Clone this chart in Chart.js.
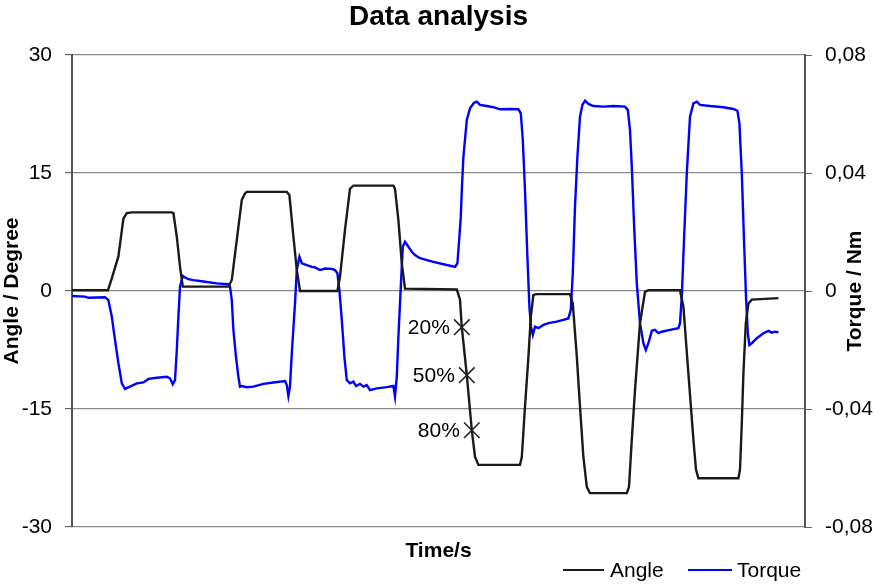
<!DOCTYPE html>
<html><head><meta charset="utf-8">
<script src="https://cdn.jsdelivr.net/npm/chart.js@4.4.1/dist/chart.umd.min.js"></script>
<style>html,body{margin:0;padding:0;background:#fff;}#wrap{width:896px;height:584px;}</style>
</head><body><div id="wrap"><canvas id="c" width="896" height="584"></canvas></div>
<script>
const chartTitle = 'Data analysis';
const xTitle = 'Time/s';
const yTitle = 'Angle / Degree';
const y2Title = 'Torque / Nm';
const seriesNames = ['Angle', 'Torque'];

const angleTime = [0,1.8,1.99,2.32,2.57,2.74,2.99,4.99,5.07,5.24,5.4,5.54,7.82,7.99,8.24,8.49,8.65,8.74,10.74,10.87,11.07,11.24,11.4,13.27,13.4,13.65,13.9,14.07,16.07,16.15,16.32,16.49,16.65,19.24,19.4,19.49,19.74,19.99,20.15,20.32,22.4,22.49,22.65,22.82,22.94,23.07,23.24,24.9,25.04,25.24,25.4,25.57,25.74,25.9,27.74,27.85,27.99,28.15,28.4,28.65,28.82,30.4,30.57,30.82,31.07,31.2,31.32,33.32,33.4,33.49,33.57,33.69,33.82,33.99,35.32];
const angleValue = [0.1,0.1,1.6,4.4,9.2,9.9,10,10,9.9,6.9,3.1,0.55,0.55,1.4,6.5,11.6,12.4,12.6,12.6,12.2,6.9,2.7,0,0,1.8,7.8,13,13.4,13.4,13,9,3.5,0.3,0.2,-1.1,-4.6,-10.7,-17.7,-21.1,-22.1,-22.1,-21.1,-14.7,-8.4,-3.3,-0.5,-0.4,-0.4,-1.6,-8.3,-14.7,-21.1,-24.9,-25.7,-25.7,-24.9,-18.9,-12.6,-4.1,-0.1,0.1,0.1,-2,-10.5,-18.9,-22.7,-23.8,-23.8,-22.7,-16.8,-10.5,-4.1,-1.6,-1.1,-0.9];

const torqueTime = [0,0.65,0.82,1.65,1.82,1.99,2.15,2.32,2.49,2.65,2.9,3.24,3.57,3.82,4.24,4.74,4.9,5.04,5.15,5.24,5.32,5.4,5.54,5.65,5.82,6.07,6.57,7.24,7.82,7.9,7.99,8.07,8.2,8.32,8.4,8.49,8.74,9.07,9.57,10.07,10.65,10.74,10.82,10.9,10.99,11.15,11.24,11.37,11.49,11.74,11.99,12.15,12.4,12.65,12.99,13.15,13.27,13.37,13.49,13.62,13.74,13.9,14.07,14.2,14.4,14.57,14.74,14.9,15.24,15.74,16.07,16.15,16.24,16.32,16.44,16.54,16.65,16.82,16.99,17.15,17.4,18.07,18.74,19.15,19.27,19.37,19.44,19.49,19.57,19.74,19.9,20.1,20.24,20.4,20.74,21.07,21.4,21.9,22.32,22.44,22.54,22.65,22.77,22.87,22.95,23.04,23.15,23.32,23.57,23.82,24.24,24.82,24.94,25.04,25.15,25.27,25.4,25.52,25.65,25.82,26.07,26.57,27.07,27.65,27.79,27.9,27.99,28.1,28.24,28.4,28.57,28.69,28.82,28.99,29.15,29.32,29.49,29.9,30.32,30.4,30.49,30.6,30.74,30.9,31.07,31.24,31.4,31.9,32.57,33.07,33.27,33.37,33.49,33.6,33.7,33.79,33.87,33.99,34.24,34.57,34.82,34.99,35.15,35.32];
const torqueValue = [-0.0017,-0.0019,-0.0023,-0.0021,-0.0031,-0.0087,-0.0166,-0.0245,-0.0313,-0.0332,-0.0324,-0.0313,-0.031,-0.0298,-0.0294,-0.0291,-0.0296,-0.0316,-0.0302,-0.02,-0.0087,0.0015,0.0051,0.0046,0.004,0.0037,0.0032,0.0026,0.0023,0.0015,-0.0031,-0.0132,-0.0223,-0.0291,-0.0324,-0.0322,-0.0326,-0.0324,-0.0315,-0.031,-0.0305,-0.0319,-0.0356,-0.0324,-0.0211,-0.0042,0.0071,0.0116,0.0094,0.0088,0.0082,0.008,0.0071,0.0076,0.0075,0.0071,0.006,0.0003,-0.0098,-0.0223,-0.0302,-0.0313,-0.0307,-0.0322,-0.0315,-0.0324,-0.0319,-0.0336,-0.033,-0.0326,-0.0322,-0.0358,-0.0291,-0.0155,0.0015,0.015,0.0167,0.015,0.0133,0.0122,0.0111,0.0099,0.0088,0.0082,0.0094,0.0184,0.0252,0.0342,0.0455,0.058,0.0619,0.0638,0.0642,0.0631,0.0627,0.0623,0.0616,0.0617,0.0616,0.0602,0.0512,0.0342,0.0116,-0.0053,-0.0121,-0.0149,-0.0121,-0.0126,-0.0115,-0.0109,-0.0104,-0.0093,-0.0064,0.006,0.0286,0.0455,0.0591,0.0631,0.0645,0.0634,0.0627,0.0625,0.0627,0.0625,0.0614,0.0546,0.0421,0.023,0.0026,-0.0109,-0.0177,-0.02,-0.0177,-0.0135,-0.0132,-0.0143,-0.0138,-0.0132,-0.0126,-0.0109,-0.0019,0.0173,0.0399,0.0591,0.0636,0.0642,0.0631,0.0627,0.0623,0.0617,0.0611,0.0569,0.0399,0.0173,-0.0019,-0.0143,-0.0183,-0.0177,-0.016,-0.0143,-0.0135,-0.0141,-0.0138,-0.014];

const markerTime = [19.49, 19.74, 19.99];
const markerValue = [-4.6, -10.7, -17.7];
const markerLabels = ['20%', '50%', '80%'];

const FONT = '"Liberation Sans", Arial, Helvetica, sans-serif';
const toXY = (ts, vs) => ts.map((t, i) => ({x: t, y: vs[i]}));
const fmtComma = v => Math.abs(v) < 1e-9 ? '0' : v.toFixed(2).replace('.', ',');

const overlay = {
  id: 'overlay',
  afterDatasetsDraw(chart) {
    const ctx = chart.ctx;
    const meta = chart.getDatasetMeta(2);
    ctx.save();
    ctx.font = '21px ' + FONT;
    ctx.fillStyle = '#000';
    ctx.textAlign = 'right';
    ctx.textBaseline = 'middle';
    meta.data.forEach((p, i) => ctx.fillText(markerLabels[i], p.x - 12, p.y + 1));
    ctx.restore();
  },
  afterDraw(chart) {
    const ctx = chart.ctx, ca = chart.chartArea;
    ctx.save();
    ctx.font = 'bold 28px ' + FONT;
    ctx.fillStyle = '#000';
    ctx.textAlign = 'center';
    ctx.textBaseline = 'alphabetic';
    ctx.fillText(chartTitle, (ca.left + ca.right) / 2, 25);
    ctx.font = 'bold 21px ' + FONT;
    ctx.textBaseline = 'middle';
    ctx.translate(855, (ca.top + ca.bottom) / 2);
    ctx.rotate(-Math.PI / 2);
    ctx.fillText(y2Title, 0, 0);
    ctx.restore();
    ctx.save();
    ctx.font = '21px ' + FONT;
    ctx.textAlign = 'left';
    ctx.textBaseline = 'middle';
    const items = [
      {name: seriesNames[0], color: '#1a1a1a', x0: 563, x1: 604, tx: 610},
      {name: seriesNames[1], color: '#0000ff', x0: 688, x1: 732, tx: 737}
    ];
    items.forEach(it => {
      ctx.strokeStyle = it.color;
      ctx.lineWidth = 2;
      ctx.beginPath();
      ctx.moveTo(it.x0, 570);
      ctx.lineTo(it.x1, 570);
      ctx.stroke();
      ctx.fillStyle = '#000';
      ctx.fillText(it.name, it.tx, 571);
    });
    ctx.restore();
  }
};

new Chart(document.getElementById('c'), {
  type: 'scatter',
  data: {
    datasets: [
      {label: seriesNames[0], data: toXY(angleTime, angleValue), showLine: true, borderColor: '#1a1a1a', borderWidth: 2.4, pointRadius: 0, yAxisID: 'y', order: 1},
      {label: seriesNames[1], data: toXY(torqueTime, torqueValue), showLine: true, borderColor: '#0000ff', borderWidth: 2.4, pointRadius: 0, yAxisID: 'y2', order: 2},
      {label: 'markers', data: toXY(markerTime, markerValue), showLine: false, pointStyle: 'crossRot', pointRadius: 11, borderColor: '#222', backgroundColor: '#222', borderWidth: 1.6, yAxisID: 'y', order: 0}
    ]
  },
  options: {
    responsive: false,
    animation: false,
    devicePixelRatio: 1,
    layout: {padding: {top: 55, left: 0, right: 0, bottom: 0}},
    plugins: {legend: {display: false}, title: {display: false}, tooltip: {enabled: false}},
    scales: {
      x: {
        type: 'linear', min: 0, max: 36.65,
        grid: {display: false},
        border: {display: false},
        ticks: {display: false},
        title: {display: true, text: xTitle, color: '#000', font: {family: FONT, size: 21, weight: 'bold'}, padding: {top: 0, bottom: 20}},
        afterFit(s) { s.height = 57; }
      },
      y: {
        position: 'left', min: -30, max: 30,
        ticks: {stepSize: 15, color: '#000', font: {family: FONT, size: 21}, padding: 13},
        grid: {color: '#8a8a8a', lineWidth: 1.2, tickLength: 7, tickColor: '#666'},
        border: {display: true, color: '#555', width: 2},
        title: {display: true, text: yTitle, color: '#000', font: {family: FONT, size: 21, weight: 'bold'}, padding: {top: 0, bottom: 0}},
        afterFit(s) { s.width = 72; }
      },
      y2: {
        position: 'right', min: -0.08, max: 0.08,
        ticks: {stepSize: 0.04, color: '#000', font: {family: FONT, size: 21}, padding: 13, callback: v => fmtComma(v)},
        grid: {drawOnChartArea: false, tickLength: 7, tickColor: '#666'},
        border: {display: true, color: '#555', width: 2},
        afterFit(s) { s.width = 91; }
      }
    }
  },
  plugins: [overlay]
});
</script>
</body></html>
